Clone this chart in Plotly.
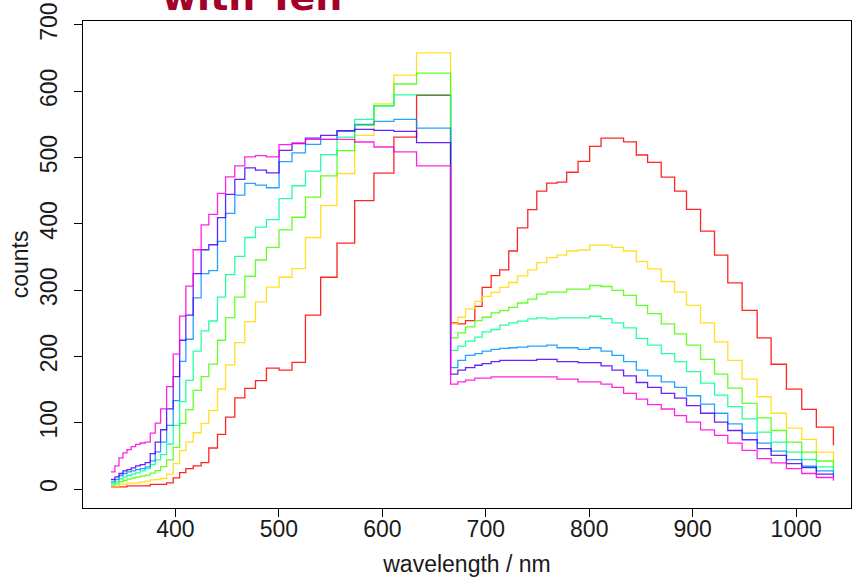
import plotly.graph_objects as go

# bin start positions (nm); last value is the end point of the step line
wavelength = [337.7, 341.6, 345.5, 349.3, 353.2, 357.3, 361.6, 366.0, 370.8, 375.7,
              380.5, 385.7, 391.5, 397.9, 404.1, 410.1, 417.2, 424.9, 432.3, 440.7,
              448.5, 457.4, 467.1, 477.4, 488.0, 500.2, 512.7, 525.7, 540.4, 556.2,
              573.3, 591.9, 611.2, 633.1,
              666.0, 673.0, 680.4, 689.4, 696.5, 705.2, 713.5, 722.2, 730.6, 740.6,
              749.3, 758.9, 768.9, 778.2, 789.2, 800.4, 811.4, 822.0, 833.2, 845.5,
              856.4, 869.6, 882.5, 894.0, 907.6, 921.1, 933.9, 947.8, 962.3, 975.8,
              990.6, 1005.4, 1019.5, 1036.0]

red = [3.5, 3.5, 3.5, 3.5, 5, 5, 5, 5, 5, 7, 7, 7, 9.5, 17, 25, 31, 35, 40, 62, 82.5,
       108.5, 137.5, 152, 163.5, 182.5, 179.5, 191, 262.5, 319.5, 371, 435, 476.5, 531, 594,
       250.7, 249.2, 254.2, 275.7, 304.1, 322.1, 330.6, 359.1, 394, 421.5, 449.4, 461.4,
       462.9, 477.9, 494.4, 516.9, 529.3, 529.3, 523.8, 503.9, 492.9, 470.4, 449.4, 422,
       389, 353, 311.1, 269.7, 228.2, 188.3, 150.8, 120.3, 93.4, 66]
yellow = [4.5, 4.5, 7, 7, 9, 9, 9.5, 11, 12, 14, 14.5, 16, 22.5, 38.5, 58, 71, 85, 99,
          118.5, 151, 187.5, 221, 252.5, 282.5, 304.5, 319.5, 332.5, 379.5, 427.5, 476,
          533.5, 581, 624.5, 658,
          249.2, 259.2, 271.7, 283.1, 290.6, 296.6, 304.1, 311.6, 321.6, 330.6, 341.6,
          349.1, 353, 359.1, 360.6, 368, 368, 364.5, 359.1, 343.1, 332.1, 313.1, 297.1,
          277.2, 250.7, 222.2, 194.3, 165.8, 139.3, 114.4, 91.9, 74.9, 55.9, 36]
green = [6, 8, 11, 13, 15, 16.5, 18, 19.5, 21, 24, 28, 34, 44, 63, 99, 120, 149, 169.5,
         188.5, 224.5, 258.5, 289.5, 321, 345.5, 364.5, 391, 410, 440.5, 472.5, 510.5,
         548.5, 578.5, 611, 627.5,
         228.2, 235.7, 244.7, 254.2, 259.2, 265.7, 269.2, 274.2, 280.7, 286.6, 294.1,
         297.1, 297.1, 301.6, 301.6, 307.1, 305.6, 299.6, 292.1, 277.2, 264.7, 249.2,
         234.2, 217.2, 195.8, 173.3, 152.3, 129.3, 107.4, 88.4, 70.9, 55.9, 42.4, 30]
spring = [8.5, 11, 15.5, 18.5, 20.5, 22.5, 24.5, 27.5, 31, 37, 44, 52, 68, 96, 132, 164,
          208, 238.5, 253.5, 289.5, 323.5, 351, 379.5, 395, 406.5, 438, 457.5, 479.5,
          504.5, 531, 557.5, 577.5, 594.5, 595,
          209.2, 215.7, 223.2, 229.2, 237.2, 240.7, 247.2, 250.7, 253.2, 256.7, 258.2,
          256.7, 258.2, 258.2, 258.2, 260.7, 257.2, 250.7, 243.2, 227.2, 217.2, 204.2,
          192.3, 177.3, 159.8, 141.8, 124.3, 105.9, 85.9, 70.9, 55.9, 44.4, 33.5, 25]
azure = [11, 14.5, 20.5, 23.5, 26, 27.5, 29.5, 31, 33.5, 42.5, 56, 71, 96, 133.5, 192.5,
         226, 288.5, 325, 329.5, 373.5, 416, 443.5, 461, 458.5, 454.5, 494, 507, 520,
         527.5, 540, 550, 554.5, 557.5, 544.5,
         183.3, 194.3, 201.7, 204.2, 208.2, 210.7, 212.2, 213.2, 214.2, 215.7, 215.7,
         217.2, 213.2, 213.2, 210.7, 213.2, 208.2, 201.7, 192.3, 179.3, 170.8, 161.8,
         153.3, 140.8, 128.3, 114.4, 98.4, 84.4, 69.4, 57.4, 44.4, 34.5, 27.5, 22]
violet = [14.5, 18.5, 23.5, 27.5, 29.5, 32, 35, 37, 40, 53.5, 71, 89.5, 121, 169.5, 224.5,
          262.5, 325, 361, 368.5, 409.5, 444.5, 467, 484.5, 481, 477, 511, 521, 529.5,
          533.5, 540.5, 542.5, 541, 539.5, 522.5,
          173.3, 179.3, 183.3, 186.8, 189.3, 192.3, 194.3, 194.3, 194.3, 194.3, 195.8,
          195.8, 192.3, 192.3, 190.8, 190.8, 185.8, 179.3, 170.8, 160.8, 153.3, 144.3,
          137.3, 125.8, 114.4, 100.9, 88.4, 74.4, 60.9, 50.9, 38.5, 32.5, 22.5, 18]
magenta = [26, 35, 47, 54.5, 59.5, 64, 67.5, 69.5, 71, 84.5, 99.5, 121, 154.5, 203.5, 261,
           306, 361, 398.5, 414.5, 446, 471, 487.5, 501, 503, 501, 519.5, 522, 527.5,
           527.5, 527.5, 523.5, 516, 508.5, 487.5,
           158.3, 161.8, 164.3, 167.3, 167.3, 169.3, 169.3, 169.3, 169.3, 169.3, 169.3,
           169.3, 165.8, 165.8, 161.8, 161.8, 158.3, 153.3, 144.3, 135.8, 127.3, 120.8,
           110.9, 100.9, 89.4, 80.9, 69.4, 58.4, 45.9, 39.5, 31, 23.5, 17.5, 12.5]

series = [red, yellow, green, spring, azure, violet, magenta]
colors = ["#FF0000", "#FFDB00", "#49FF00", "#00FF92", "#0092FF", "#4900FF", "#FF00DB"]

x_ticks = [400, 500, 600, 700, 800, 900, 1000]
y_ticks = [0, 100, 200, 300, 400, 500, 600, 700]

fig = go.Figure()
for vals, col in zip(series, colors):
    fig.add_trace(go.Scatter(x=wavelength, y=vals, mode="lines",
                             line=dict(color=col, width=1.3, shape="hv"),
                             opacity=0.85, showlegend=False, hoverinfo="skip"))

font = dict(family="Liberation Sans, Arial, sans-serif", size=23, color="#1a1a1a")
axis_common = dict(showline=True, mirror=True, linecolor="black", linewidth=1,
                   ticks="outside", ticklen=8, tickcolor="black", tickwidth=1,
                   showgrid=False, zeroline=False, tickfont=font,
                   ticklabeloverflow="allow")

fig.update_layout(
    width=854, height=577,
    margin=dict(l=83, r=2, t=19, b=69),
    paper_bgcolor="white", plot_bgcolor="white",
    xaxis=dict(range=[310.7, 1053], tickvals=x_ticks, ticklabelstandoff=-8,
               **axis_common,
               title=dict(text="wavelength / nm", font=font, standoff=16)),
    yaxis=dict(range=[-28.5, 706], tickvals=y_ticks, tickangle=-90,
               ticklabelstandoff=8, **axis_common,
               title=dict(text="counts", font=font, standoff=0)),
    annotations=[dict(text="<b>with Ten</b>", xref="paper", yref="paper",
                      x=0.1, y=1.0, xanchor="left", yanchor="bottom", showarrow=False,
                      font=dict(family="DejaVu Sans", size=38, color="#a3002b"))],
)

fig.write_html("out.html")
